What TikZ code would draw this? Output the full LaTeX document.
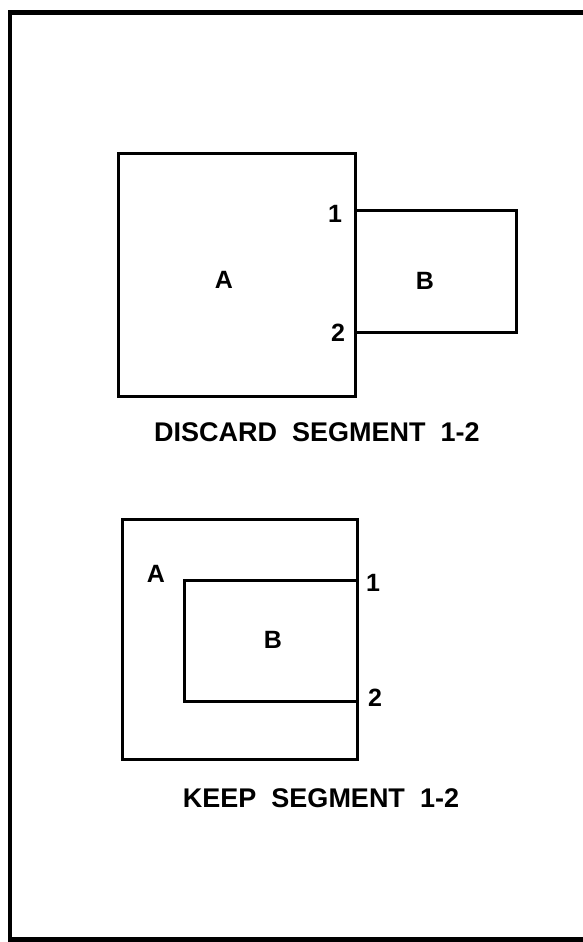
\documentclass[tikz,border=0pt]{standalone}
\usepackage{fontspec}
\setmainfont{Liberation Sans}
\begin{document}
\begin{tikzpicture}[x=1pt,y=-1pt,
  shape line/.style={line width=3pt, line join=miter},
  lbl/.style={font=\fontsize{25}{30}\selectfont\bfseries, inner sep=0pt},
  captext/.style={font=\fontsize{27}{32}\selectfont\bfseries, inner sep=0pt}]
\useasboundingbox (0,0) rectangle (583,942);
% frame
\draw[line width=4.5pt] (590,12.5) -- (10,12.5) -- (10,939.5) -- (590,939.5);
% top figure
\draw[shape line] (118,153) rectangle (355,396);
\draw[shape line] (355,210) -- (516,210) -- (516,332) -- (355,332);
\node[lbl] (A1) at (224,280) {A};
\node[lbl] (B1) at (425,281) {B};
\node[lbl] (n11) at (335,214) {1};
\node[lbl] (n12) at (338,333) {2};
\node[captext] (c1) at (317,432) {DISCARD\ \ SEGMENT\ \ 1-2};
% bottom figure
\draw[shape line] (122,519) rectangle (357,759);
\draw[shape line] (357,580) -- (184,580) -- (184,701) -- (357,701);
\node[lbl] (A2) at (156,574) {A};
\node[lbl] (B2) at (273,640) {B};
\node[lbl] (n21) at (373,583) {1};
\node[lbl] (n22) at (375,698) {2};
\node[captext] (c2) at (321,798) {KEEP\ \ SEGMENT\ \ 1-2};
\end{tikzpicture}
\end{document}
